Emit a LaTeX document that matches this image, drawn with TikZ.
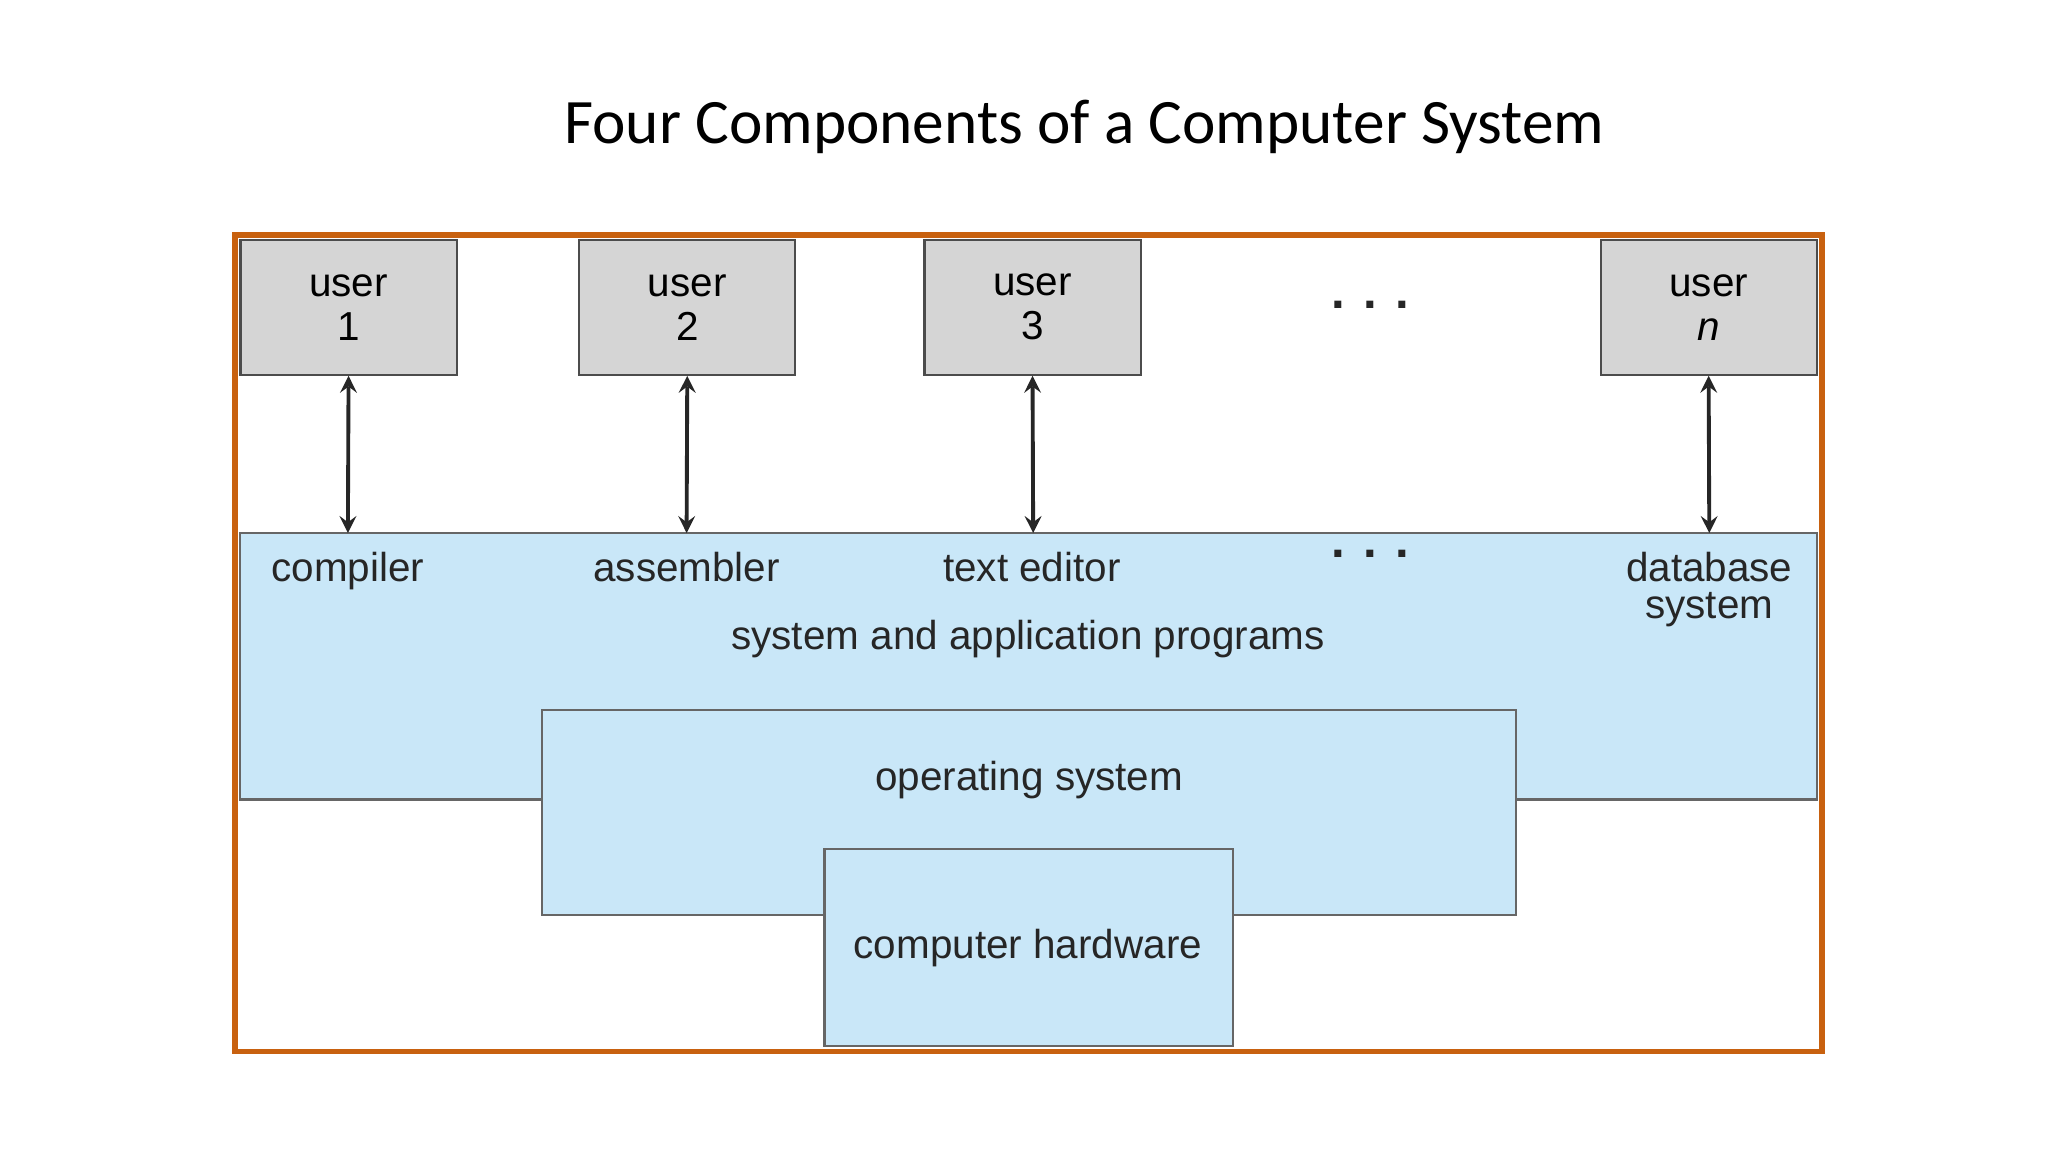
\documentclass[tikz,border=0pt]{standalone}
\usepackage{fontspec}
\setmainfont{Liberation Sans}
\newfontfamily\titlefont{Carlito}
\definecolor{frameorange}{HTML}{C8610F}
\definecolor{usergray}{HTML}{D5D5D5}
\definecolor{progblue}{HTML}{C9E7F8}
\tikzset{
  userbox/.style={draw=black!70,fill=usergray,line width=0.6pt,minimum width=2.16cm,minimum height=1.35cm,align=center,font=\fontsize{11.5}{12.5}\selectfont},
  layer/.style={draw=black!60,fill=progblue,line width=0.6pt},
  lbl/.style={font=\fontsize{11.5}{12.5}\selectfont,align=center,text=black!85},
  link/.style={<->,>=stealth,line width=1.1pt,black!85}
}
\begin{document}
\begin{tikzpicture}[x=0.013128cm,y=-0.013128cm]
        \useasboundingbox (0,0) rectangle (1560,877.5);
        % Title
        \node[font=\titlefont\fontsize{18}{20}\selectfont] (title) at (826,97) {Four Components of a Computer System};

        % Outer frame
        \draw[frameorange,line width=1.6pt] (179,179) rectangle (1388,801);

        % Layers
        \draw[layer] (183,406) rectangle (1384,609);
        \draw[layer] (413,541) rectangle (1155,697);
        \draw[layer] (628,647) rectangle (939,797);

        % Users
        \node[userbox] (u1) at (265.5,234) {user\\1};
        \node[userbox] (u2) at (523.5,234) {user\\2};
        \node[userbox] (u3) at (786.5,234) {user\\3};
        \node[userbox] (un) at (1301.5,234) {user\\\textit{n}};
        \node[lbl,font=\bfseries\fontsize{14}{14}\selectfont] (udots) at (1044,232) {. . .};

        % Programs
        \node[lbl,anchor=north] (p1) at (265,411) {compiler};
        \node[lbl,anchor=north] (p2) at (523,411) {assembler};
        \node[lbl,anchor=north] (p3) at (786,411) {text editor};
        \node[lbl,font=\bfseries\fontsize{14}{14}\selectfont] (pdots) at (1044,422) {. . .};
        \node[lbl,anchor=north] (pn) at (1302,411) {database\\[-2pt]system};
        \coordinate (c1) at (265,406);
        \coordinate (c2) at (523,406);
        \coordinate (c3) at (787,406);
        \coordinate (cn) at (1302,406);

        % Arrows
        \draw[link] (u1.south) -- (c1);
        \draw[link] (u2.south) -- (c2);
        \draw[link] (u3.south) -- (c3);
        \draw[link] (un.south) -- (cn);

        % Layer labels
        \node[lbl] (apps) at (783,487) {system and application programs};
        \node[lbl] (os) at (784,594) {operating system};
        \node[lbl] (hw) at (783,722) {computer hardware};
    \end{tikzpicture}
\end{document}
